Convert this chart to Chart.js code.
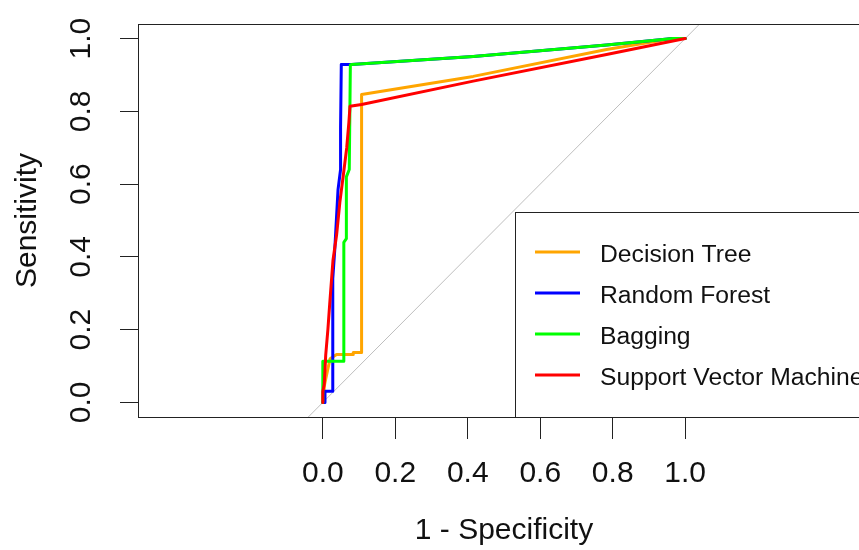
<!DOCTYPE html>
<html lang="en">
<head>
    <meta charset="UTF-8">
    <title>ROC Curves</title>
    <style>
        body {
            margin: 0;
            overflow: hidden;
            background: #fff;
        }
        #chartContainer {
            width: 880px;
            height: 550px;
        }
    </style>
    <script src="https://cdn.jsdelivr.net/npm/chart.js"></script>
</head>
<body>
    <div id="chartContainer">
        <canvas id="rocChart" width="880" height="550"></canvas>
    </div>
    <script>
        // model names and colours (legend order)
        const modelNames = ['Decision Tree', 'Random Forest', 'Bagging', 'Support Vector Machine'];
        const modelColors = ['#FFA500', '#0000FF', '#00FF00', '#FF0000'];

        // 1 - specificity (x) and sensitivity (y)
        const dtFpr = [0, 0.005, 0.02, 0.038, 0.084, 0.084, 0.107, 0.107, 0.415, 0.783, 0.966, 1];
        const dtTpr = [0, 0.05, 0.12, 0.132, 0.132, 0.137, 0.137, 0.846, 0.896, 0.970, 1.0, 1.0];

        const rfFpr = [0, 0.006, 0.006, 0.027, 0.027, 0.028, 0.033, 0.042, 0.049, 0.049, 0.051, 0.079, 0.415, 0.783, 0.966, 1];
        const rfTpr = [0, 0, 0.031, 0.031, 0.09, 0.34, 0.42, 0.585, 0.64, 0.755, 0.929, 0.929, 0.951, 0.982, 1.0, 1.0];

        const bgFpr = [0, 0, 0.058, 0.058, 0.065, 0.065, 0.073, 0.076, 0.079, 0.415, 0.783, 0.966, 1];
        const bgTpr = [0, 0.113, 0.113, 0.44, 0.45, 0.62, 0.64, 0.927, 0.929, 0.951, 0.982, 1.0, 1.0];

        const svmFpr = [0, 0, 0.004, 0.008, 0.014, 0.019, 0.028, 0.038, 0.047, 0.056, 0.066, 0.072, 0.075, 0.107, 0.415, 0.783, 1];
        const svmTpr = [0, 0.03, 0.05, 0.13, 0.20, 0.27, 0.39, 0.46, 0.55, 0.62, 0.70, 0.77, 0.814, 0.819, 0.883, 0.956, 1.0];

        // chance line
        const diagX = [-0.04, 1.04];
        const diagY = [-0.04, 1.04];

        // tick values
        const xTicks = [0, 0.2, 0.4, 0.6, 0.8, 1.0];
        const yTicks = [0, 0.2, 0.4, 0.6, 0.8, 1.0];

        const FONT = "'Liberation Sans', Arial, sans-serif";

        function toPoints(xs, ys) {
            return xs.map((x, i) => ({ x: x, y: ys[i] }));
        }

        const curves = [
            [dtFpr, dtTpr],
            [rfFpr, rfTpr],
            [bgFpr, bgTpr],
            [svmFpr, svmTpr]
        ];

        const datasets = curves.map((c, i) => ({
            label: modelNames[i],
            data: toPoints(c[0], c[1]),
            showLine: true,
            borderColor: modelColors[i],
            backgroundColor: modelColors[i],
            borderWidth: 3,
            borderJoinStyle: 'round',
            borderCapStyle: 'round',
            pointRadius: 0,
            order: 4 - i   // later models drawn on top, like R
        }));

        datasets.push({
            label: 'chance',
            data: toPoints(diagX, diagY),
            showLine: true,
            borderColor: '#BEBEBE',
            borderWidth: 1,
            pointRadius: 0,
            order: 10
        });

        // box around the plot + R style legend in the bottom right corner
        const boxLegend = {
            id: 'boxLegend',
            afterDraw(chart) {
                const { ctx, chartArea: a } = chart;
                ctx.save();
                ctx.strokeStyle = '#222';
                ctx.lineWidth = 1;
                ctx.strokeRect(Math.round(a.left) + 0.5, Math.round(a.top) + 0.5,
                    Math.round(a.right - a.left), Math.round(a.bottom - a.top));

                const lx = 515, ly = 212;
                ctx.fillStyle = '#fff';
                ctx.fillRect(lx, ly, a.right - lx, a.bottom - ly);
                ctx.strokeRect(lx + 0.5, ly + 0.5, Math.round(a.right - lx), Math.round(a.bottom - ly));

                ctx.font = '24.7px ' + FONT;
                ctx.textBaseline = 'middle';
                ctx.textAlign = 'left';
                chart.data.datasets.slice(0, modelNames.length).forEach((ds, i) => {
                    const y = 252 + i * 41;
                    ctx.strokeStyle = ds.borderColor;
                    ctx.lineWidth = 3;
                    ctx.beginPath();
                    ctx.moveTo(535, y);
                    ctx.lineTo(580, y);
                    ctx.stroke();
                    ctx.fillStyle = '#111';
                    ctx.fillText(ds.label, 600, y + 3);
                });
                ctx.restore();
            }
        };

        const ctx = document.getElementById('rocChart').getContext('2d');

        new Chart(ctx, {
            type: 'scatter',
            data: { datasets: datasets },
            plugins: [boxLegend],
            options: {
                responsive: false,
                animation: false,
                layout: { padding: { top: 24, right: 10, left: 0, bottom: 0 } },
                plugins: {
                    legend: { display: false },
                    tooltip: { enabled: false }
                },
                scales: {
                    x: {
                        type: 'linear',
                        min: -0.51,
                        max: 1.51,
                        afterBuildTicks: (scale) => {
                            scale.ticks = xTicks.map(v => ({ value: v }));
                        },
                        afterFit: (scale) => {
                            scale.height = 133;
                            scale.paddingLeft = 0;
                            scale.paddingRight = 0;
                        },
                        grid: {
                            drawOnChartArea: false,
                            drawTicks: true,
                            tickLength: 22,
                            color: '#222'
                        },
                        border: { display: true, color: '#222', width: 1 },
                        ticks: {
                            autoSkip: false,
                            maxRotation: 0,
                            padding: 17,
                            color: '#111',
                            font: { family: FONT, size: 30 },
                            callback: (v) => Number(v).toFixed(1)
                        },
                        title: {
                            display: true,
                            text: '1 - Specificity',
                            color: '#111',
                            font: { family: FONT, size: 30 },
                            padding: { top: 0, bottom: 1 }
                        }
                    },
                    y: {
                        type: 'linear',
                        min: -0.04,
                        max: 1.04,
                        afterBuildTicks: (scale) => {
                            scale.ticks = yTicks.map(v => ({ value: v }));
                        },
                        afterFit: (scale) => {
                            scale.width = 138;
                            scale.paddingTop = 0;
                            scale.paddingBottom = 0;
                        },
                        grid: {
                            drawOnChartArea: false,
                            drawTicks: true,
                            tickLength: 18,
                            color: '#222'
                        },
                        border: { display: true, color: '#222', width: 1 },
                        ticks: {
                            autoSkip: false,
                            minRotation: 90,
                            maxRotation: 90,
                            crossAlign: 'center',
                            padding: 17,
                            color: '#111',
                            font: { family: FONT, size: 30 },
                            callback: (v) => Number(v).toFixed(1)
                        },
                        title: {
                            display: true,
                            text: 'Sensitivity',
                            color: '#111',
                            font: { family: FONT, size: 30 },
                            padding: { top: 10, bottom: 0 }
                        }
                    }
                }
            }
        });
    </script>
</body>
</html>
